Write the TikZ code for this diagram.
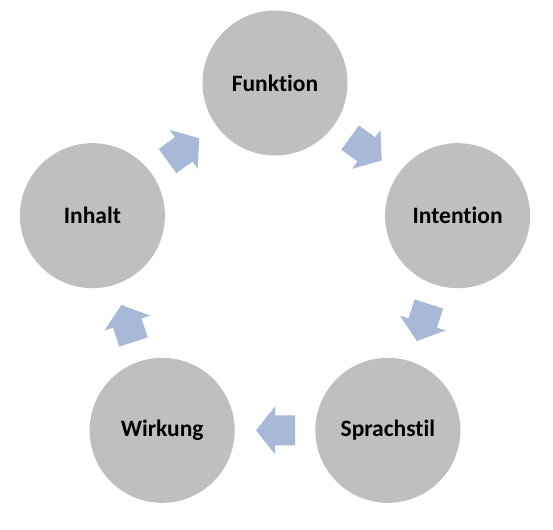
\documentclass[tikz,border=0pt]{standalone}
\usepackage{fontspec}
\setmainfont{Carlito}[Ligatures=NoCommon]
\usetikzlibrary{calc}
\definecolor{circgray}{RGB}{191,191,191}
\definecolor{arrblue}{RGB}{168,185,215}
\tikzset{
  stage/.style={circle, fill=circgray, minimum size=145pt, inner sep=0pt, font=\fontsize{23.5}{26}\selectfont\bfseries, text=black},
  blockarrow/.style={fill=arrblue, draw=none},
}
\newcommand{\cyclearrow}[3]{%
  \fill[blockarrow, shift={($(#1)!0.5!(#2)$)}, rotate=#3]
    (-20,-15) -- (0,-15) -- (0,-24) -- (19,0) -- (0,24) -- (0,15) -- (-20,15) -- cycle;}
\begin{document}
\begin{tikzpicture}[x=1pt,y=1pt]
\useasboundingbox (0,0) rectangle (553,-529);
\coordinate (ctr) at (275,-275);
\node[stage] (fun) at ($(ctr)+(90:192)$) {Funktion};
\node[stage] (int) at ($(ctr)+(18:192)$) {Intention};
\node[stage] (spr) at ($(ctr)+(-54:192)$) {Sprachstil};
\node[stage] (wir) at ($(ctr)+(-126:192)$) {Wirkung};
\node[stage] (inh) at ($(ctr)+(162:192)$) {Inhalt};
\cyclearrow{fun}{int}{-36}
\cyclearrow{int}{spr}{-108}
\cyclearrow{spr}{wir}{180}
\cyclearrow{wir}{inh}{108}
\cyclearrow{inh}{fun}{36}
\end{tikzpicture}
\end{document}
